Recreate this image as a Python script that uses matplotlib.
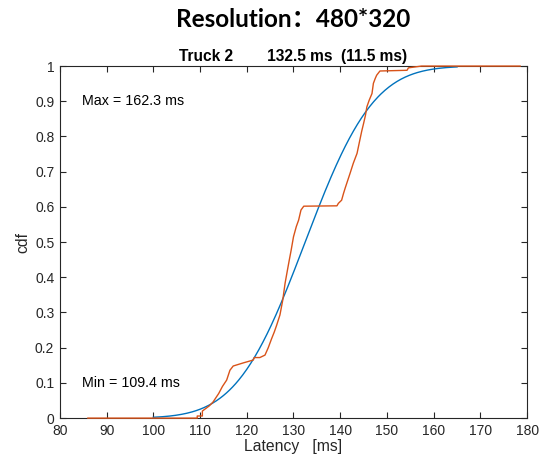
import numpy as np
import matplotlib
matplotlib.use("Agg")
import matplotlib.pyplot as plt
from math import erf, sqrt

# ---- data ----
mean_ms = 132.5
std_ms = 11.5
min_ms = 109.4
max_ms = 162.3
fit_range = [100.0, 165.0]

ecdf_x = [86.0, 109.4, 109.4, 110.5, 110.5, 111.0, 112.0, 112.8, 113.5, 114.0, 114.8, 115.7,
          116.4, 117.1, 119.3, 121.4, 121.6, 122.8, 123.9, 124.6, 125.3, 125.9, 126.4, 127.1,
          127.7, 128.2, 128.7, 129.1, 129.5, 130.0, 130.6, 131.1, 131.6, 132.2, 139.3, 139.6,
          140.3, 140.7, 141.1, 141.4, 142.1, 142.8, 143.6, 144.2, 144.6, 145.0, 145.4, 145.7,
          146.2, 146.8, 147.1, 147.5, 147.8, 148.5, 154.3, 154.6, 157.4, 178.5]
ecdf_y = [0.0, 0.0, 0.006, 0.006, 0.02, 0.025, 0.035, 0.046, 0.06, 0.07, 0.09, 0.108,
          0.136, 0.148, 0.157, 0.165, 0.172, 0.172, 0.179, 0.200, 0.225, 0.245, 0.264, 0.293,
          0.335, 0.383, 0.42, 0.449, 0.477, 0.515, 0.544, 0.5625, 0.591, 0.602, 0.603, 0.61,
          0.619, 0.638, 0.655, 0.667, 0.695, 0.724, 0.752, 0.79, 0.815, 0.837, 0.86, 0.884,
          0.903, 0.922, 0.951, 0.965, 0.974, 0.986, 0.988, 0.995, 1.0, 1.0]

x_ticks = list(range(80, 181, 10))
y_ticks = [round(0.1 * i, 1) for i in range(11)]
y_ticklabels = ["0"] + [f"{v:.1f}" for v in y_ticks[1:-1]] + ["1"]

# ---- figure ----
plt.rcParams['font.family'] = ['Liberation Sans', 'DejaVu Sans']
fig = plt.figure(figsize=(5.44, 4.62), dpi=100)
ax = fig.add_axes([0.110, 0.095, 0.859, 0.762])

fx = np.linspace(fit_range[0], fit_range[1], 300)
fy = np.array([0.5 * (1 + erf((v - mean_ms) / (std_ms * sqrt(2)))) for v in fx])
ax.plot(fx, fy, color='#0072BD', lw=1.0, zorder=3)
ax.plot(ecdf_x, ecdf_y, color='#D95319', lw=1.0, zorder=4, clip_on=False)

ax.set_xlim(80, 180)
ax.set_ylim(0, 1)
ax.set_xticks(x_ticks)
ax.set_yticks(y_ticks)
ax.set_yticklabels(y_ticklabels)
ax.tick_params(direction='in', top=True, right=True, length=4, width=0.8,
               labelsize=10, colors='#262626', labelcolor='#262626', pad=4)
for s in ax.spines.values():
    s.set_color('#262626')
    s.set_linewidth(0.8)
    s.set_zorder(2)

ax.set_xlabel('Latency   [ms]', fontsize=11.3, color='#262626', labelpad=1)
ax.set_ylabel('cdf', fontsize=11.3, color='#262626', labelpad=3)
ax.set_title('Truck 2        %.1f ms  (%.1f ms)' % (mean_ms, std_ms),
             fontsize=11.2, fontweight='bold', color='#000000', pad=4)

ax.text(84.7, 0.90, 'Max = %.1f ms' % max_ms, fontsize=10.3, va='center', ha='left', color='#000000')
ax.text(84.7, 0.10, 'Min = %.1f ms' % min_ms, fontsize=10.3, va='center', ha='left', color='#000000')

fig.text(0.538, 0.958, 'Resolution：480*320', fontsize=17.5, fontweight='bold',
         ha='center', va='center', family=['Lato', 'Noto Sans CJK SC', 'DejaVu Sans'])

fig.savefig('out.png', dpi=100, facecolor='white')
